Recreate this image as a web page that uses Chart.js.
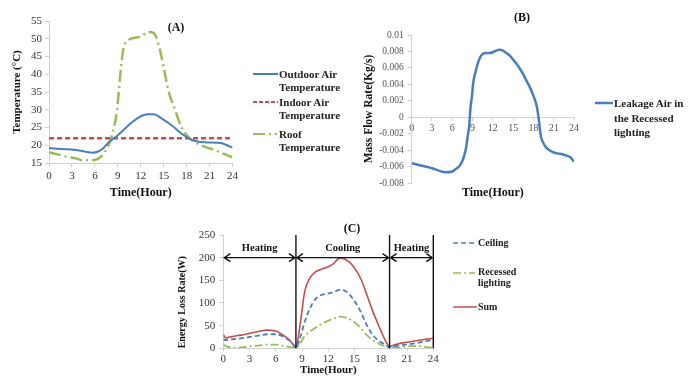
<!DOCTYPE html>
<html><head><meta charset="utf-8">
<script src="https://cdn.jsdelivr.net/npm/chart.js@4.4.0/dist/chart.umd.min.js"></script>
<style>
html,body{margin:0;padding:0;background:#fff;}
#wrap{position:relative;width:690px;height:377px;overflow:hidden;background:#fff;font-family:"Liberation Serif","Times New Roman",serif;}
canvas{position:absolute;}
.t{position:absolute;font-weight:bold;color:#111;white-space:nowrap;line-height:1;transform:translate(-50%,-50%);font-size:12px;}
.lg{position:absolute;font-weight:bold;color:#222;white-space:nowrap;}
svg{position:absolute;overflow:visible;}
</style></head>
<body><div id="wrap">
<canvas id="cA" width="241" height="205" style="left:0;top:0;width:241px;height:205px"></canvas>
<canvas id="cB" width="241" height="205" style="left:340px;top:0;width:241px;height:205px"></canvas>
<canvas id="cC" width="270" height="155" style="left:170px;top:222px;width:270px;height:155px"></canvas>

<div class="t" style="left:176px;top:27px">(A)</div>
<div class="t" style="left:522px;top:17px">(B)</div>
<div class="t" style="left:352px;top:228px">(C)</div>

<svg style="left:0;top:0" width="690" height="377">
  <line x1="253" y1="74" x2="278" y2="74" stroke="#4a7ebb" stroke-width="2"/>
  <line x1="253" y1="102" x2="278" y2="102" stroke="#c0504d" stroke-width="2" stroke-dasharray="4,2"/>
  <line x1="253" y1="134" x2="277" y2="134" stroke="#9bbb59" stroke-width="2" stroke-dasharray="12,4,2,4"/>
  <line x1="595" y1="103" x2="613" y2="103" stroke="#4a7ebb" stroke-width="2.5"/>
  <line x1="453" y1="243" x2="477" y2="243" stroke="#4a7ebb" stroke-width="1.5" stroke-dasharray="5,3"/>
  <line x1="453" y1="273" x2="475" y2="273" stroke="#9bbb59" stroke-width="1.5" stroke-dasharray="8,3,2,3"/>
  <line x1="453" y1="307" x2="477" y2="307" stroke="#c0504d" stroke-width="1.5"/>
</svg>
<div class="lg" style="left:279px;top:67.5px;font-size:11px;line-height:13px">Outdoor Air<br>Temperature</div>
<div class="lg" style="left:279px;top:95.5px;font-size:11px;line-height:13px">Indoor Air<br>Temperature</div>
<div class="lg" style="left:279px;top:127.5px;font-size:11px;line-height:13px">Roof<br>Temperature</div>
<div class="lg" style="left:614px;top:96px;font-size:11px;line-height:14.5px">Leakage Air in<br>the Recessed<br>lighting</div>
<div class="lg" style="left:478px;top:237px;font-size:10px;line-height:11px">Ceiling</div>
<div class="lg" style="left:478px;top:267px;font-size:10px;line-height:10.7px">Recessed<br>lighting</div>
<div class="lg" style="left:478px;top:301px;font-size:10px;line-height:11px">Sum</div>
</div>
<script>
// ---------- Chart A data ----------
const hoursOutdoor = [0,1,2,3,4,5,5.7,6.5,7,7.9,9,10.45,11.7,13,13.7,14.7,16,17.3,18.6,19.6,20.6,21.9,22.7,23.5,24];
const outdoorTemp  = [19.2,19.0,18.9,18.8,18.5,18.1,17.9,18.3,19.0,21.0,22.8,25.7,27.8,28.7,28.7,27.6,25.7,23.3,21.6,21.0,20.8,20.7,20.5,19.8,19.3];
const hoursIndoor = [0,24];
const indoorTemp  = [22,22];
const hoursRoof = [0,1,2.3,3.5,4.4,5.7,6.8,7.7,8.3,8.9,9.3,9.7,10.4,11.3,12,13,13.7,14.3,15,15.6,16.5,17.3,18.4,19,20.3,21.6,22.5,23.4,24];
const roofTemp  = [18.0,17.5,16.8,16.3,15.8,15.8,16.8,19.6,23.3,29.9,39.3,46.8,49.6,50.3,50.6,51.9,51.6,48.6,42.0,35.5,29.9,25.2,21.9,21.0,19.6,18.7,17.9,17.1,16.6];

// ---------- Chart B data ----------
const hoursB = [0,1,2,3,4,5,6,6.5,7,7.5,8,8.3,8.5,8.7,8.9,9.1,9.5,9.8,10.2,10.5,11,11.5,12,12.5,13,13.5,14,14.5,15,15.5,16,16.5,17,17.5,18,18.5,18.8,19.1,19.5,20,20.8,21.5,22.3,23,23.5,24];
const leakageFlow = [-0.0056,-0.0058,-0.006,-0.0062,-0.0065,-0.0067,-0.0066,-0.0063,-0.006,-0.0053,-0.0039,-0.0022,-0.0011,0.0012,0.0025,0.0042,0.0057,0.0066,0.0074,0.0077,0.0078,0.0078,0.0079,0.0081,0.0082,0.0081,0.0078,0.0075,0.007,0.0065,0.0059,0.0052,0.0044,0.0036,0.0026,0.0013,-0.0003,-0.0023,-0.0032,-0.0038,-0.0042,-0.0044,-0.0045,-0.0047,-0.0049,-0.0054];

// ---------- Chart C data ----------
const hoursC = [0,0.3,1,2,3,4,5,6,7,7.5,8,8.3,8.8,9.3,9.9,10.5,11,12,12.6,13.3,14,14.9,15.7,16.4,17.1,17.9,18.5,19,19.5,20.5,21.5,22.5,23.5,24];
const sumLoss      = [30,23,26,29,33,37,40,38,27,20,8,2,55,125,155,168,173,180,187,199,196,180,154,118,81,44,18,4,7,12,15,18,21,22];
const ceilingLoss  = [20,18,20,22,25,28,31,31,24,18,8,2,25,58,88,108,116,121,124,129,126,107,81,51,29,15,8,3,4,7,10,13,17,19];
const recessedLoss = [8,5,1,2,4,6,8,8,5,3,1.5,1,12,27,37,45,51,61,65,70,68,59,44,29,18,9,4,1,1,3,5,5,2,1];
const phaseBounds = [0,8.3,19,24];
const phaseLabels = ['Heating','Cooling','Heating'];
const arrowLevel = 200;

const FONT = '"Liberation Serif", "Times New Roman", serif';
const AXC = '#d0d0d0';
const pts = (xs, ys) => xs.map((h, i) => ({x: h, y: ys[i]}));

function line(data, color, width, dash) {
  return {data, borderColor: color, borderWidth: width, borderDash: dash || [], pointRadius: 0,
          fill: false, cubicInterpolationMode: 'monotone', tension: 0.4};
}
function fixW(w) { return s => { s.width = w; }; }
function fixH(h) { return s => { s.height = h; }; }

// ---------- Chart A ----------
new Chart(document.getElementById('cA'), {
  type: 'line',
  data: { datasets: [
    line(pts(hoursOutdoor, outdoorTemp), '#4a7ebb', 2),
    line(pts(hoursIndoor, indoorTemp), '#c0504d', 2.5, [5,3]),
    line(pts(hoursRoof, roofTemp), '#9bbb59', 2.5, [12,4,2,4])
  ]},
  options: {
    responsive: false, animation: false,
    layout: { padding: {top: 21, right: 6, left: 0, bottom: 0} },
    plugins: { legend: {display: false}, tooltip: {enabled: false} },
    scales: {
      x: { type: 'linear', min: 0, max: 24,
        ticks: { stepSize: 3, color: '#333', font: {family: FONT, size: 11}, padding: 3, maxRotation: 0 },
        grid: { drawOnChartArea: false, color: AXC, tickLength: 4 },
        border: { color: AXC },
        title: { display: true, text: 'Time(Hour)', color: '#111', font: {family: FONT, size: 12, weight: 'bold'}, padding: {top: 0, bottom: 5} },
        afterFit: fixH(42) },
      y: { min: 15, max: 55,
        ticks: { stepSize: 5, color: '#333', font: {family: FONT, size: 11}, padding: 3 },
        grid: { drawOnChartArea: false, color: AXC, tickLength: 4 },
        border: { color: AXC },
        title: { display: true, text: 'Temperature (°C)', color: '#111', font: {family: FONT, size: 11, weight: 'bold'}, padding: {top: 11, bottom: 0} },
        afterFit: fixW(49) }
    }
  }
});

// ---------- Chart B ----------
new Chart(document.getElementById('cB'), {
  type: 'line',
  data: { datasets: [ line(pts(hoursB, leakageFlow), '#4a7ebb', 2.5) ] },
  options: {
    responsive: false, animation: false,
    layout: { padding: {top: 35, right: 6, left: 0, bottom: 0} },
    plugins: { legend: {display: false}, tooltip: {enabled: false} },
    scales: {
      x: { type: 'linear', min: 0, max: 24, position: {y: 0},
        ticks: { stepSize: 3, color: '#555', font: {family: FONT, size: 10}, padding: 2, maxRotation: 0 },
        grid: { drawOnChartArea: false, color: AXC, tickLength: 3 },
        border: { color: AXC } },
      x2: { type: 'linear', min: 0, max: 24, position: 'bottom',
        ticks: { display: false }, grid: { display: false }, border: { display: false },
        title: { display: true, text: 'Time(Hour)', color: '#111', font: {family: FONT, size: 12, weight: 'bold'}, padding: {top: 0, bottom: 5} },
        afterFit: fixH(22) },
      y: { min: -0.008, max: 0.01,
        ticks: { stepSize: 0.002, color: '#555', font: {family: FONT, size: 9.5}, padding: 4,
                 callback: v => String(+(+v).toFixed(3)) },
        grid: { drawOnChartArea: false, color: AXC, tickLength: 4 },
        border: { color: AXC },
        title: { display: true, text: 'Mass Flow Rate(Kg/s)', color: '#111', font: {family: FONT, size: 11.5, weight: 'bold'}, padding: {top: 22, bottom: 0} },
        afterFit: fixW(71.7) }
    }
  }
});

// ---------- Chart C ----------
const phasePlugin = {
  id: 'phases',
  afterDatasetsDraw(chart) {
    const {ctx, chartArea: a, scales: {x, y}} = chart;
    ctx.save();
    ctx.strokeStyle = '#111'; ctx.lineWidth = 1.4;
    phaseBounds.slice(1).forEach(b => {
      const px = x.getPixelForValue(b);
      ctx.beginPath(); ctx.moveTo(px, a.top); ctx.lineTo(px, a.bottom); ctx.stroke();
    });
    const ay = y.getPixelForValue(arrowLevel);
    ctx.font = 'bold 10.5px ' + FONT; ctx.textAlign = 'center'; ctx.textBaseline = 'middle'; ctx.fillStyle = '#111';
    for (let i = 0; i < phaseLabels.length; i++) {
      const x0 = x.getPixelForValue(phaseBounds[i]) + 1, x1 = x.getPixelForValue(phaseBounds[i + 1]) - 1;
      ctx.beginPath();
      ctx.moveTo(x0, ay); ctx.lineTo(x1, ay);
      ctx.moveTo(x0 + 6, ay - 4); ctx.lineTo(x0, ay); ctx.lineTo(x0 + 6, ay + 4);
      ctx.moveTo(x1 - 6, ay - 4); ctx.lineTo(x1, ay); ctx.lineTo(x1 - 6, ay + 4);
      ctx.stroke();
      ctx.fillText(phaseLabels[i], (x0 + x1) / 2, ay - 9);
    }
    ctx.restore();
  }
};
new Chart(document.getElementById('cC'), {
  type: 'line',
  data: { datasets: [
    line(pts(hoursC, ceilingLoss), '#4a7ebb', 1.8, [5,3]),
    line(pts(hoursC, recessedLoss), '#9bbb59', 1.8, [8,3,2,3]),
    line(pts(hoursC, sumLoss), '#c0504d', 1.6)
  ]},
  plugins: [phasePlugin],
  options: {
    responsive: false, animation: false,
    layout: { padding: {top: 13, right: 6.7, left: 0, bottom: 0} },
    plugins: { legend: {display: false}, tooltip: {enabled: false} },
    scales: {
      x: { type: 'linear', min: 0, max: 24,
        ticks: { stepSize: 3, color: '#333', font: {family: FONT, size: 11}, padding: 1, maxRotation: 0 },
        grid: { drawOnChartArea: false, color: AXC, tickLength: 3 },
        border: { color: AXC },
        title: { display: true, text: 'Time(Hour)', color: '#111', font: {family: FONT, size: 11, weight: 'bold'}, padding: {top: 0, bottom: 0} },
        afterFit: fixH(28.7) },
      y: { min: 0, max: 250,
        ticks: { stepSize: 50, color: '#333', font: {family: FONT, size: 11}, padding: 4 },
        grid: { drawOnChartArea: false, color: AXC, tickLength: 4 },
        border: { color: AXC },
        title: { display: true, text: 'Energy Loss Rate(W)', align: 'start', color: '#111', font: {family: FONT, size: 10, weight: 'bold'}, padding: {top: 6.5, bottom: 0} },
        afterFit: fixW(53.3) }
    }
  }
});
</script>
</body></html>
